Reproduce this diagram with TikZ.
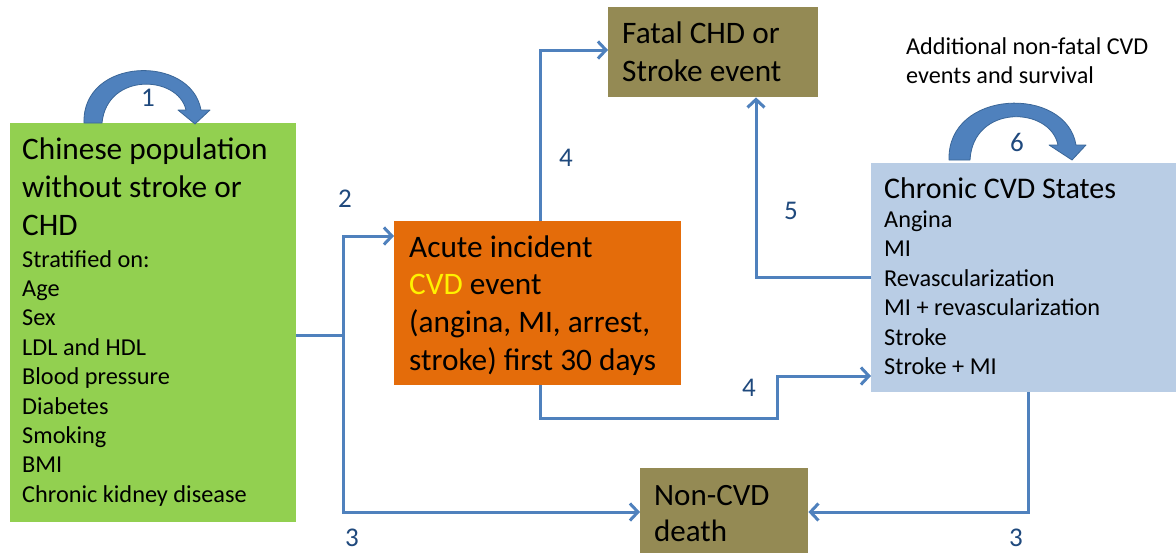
\documentclass[tikz,border=0pt]{standalone}
\usepackage{fontspec}
\setmainfont{Carlito}
\usetikzlibrary{positioning,arrows.meta}

\definecolor{popgreen}{HTML}{92D050}
\definecolor{deatholive}{HTML}{948A54}
\definecolor{acuteorange}{HTML}{E46C0A}
\definecolor{chronicblue}{HTML}{B9CDE5}
\definecolor{linkblue}{HTML}{4F81BD}
\definecolor{arrowedge}{HTML}{3A6698}
\definecolor{numblue}{HTML}{1F497D}

\newcommand{\boxfont}{\fontsize{31.3}{38}\selectfont}
\newcommand{\listfont}{\fontsize{24.3}{29.4}\selectfont}

\tikzset{
  statebox/.style={rectangle, inner sep=0pt, anchor=north west},
  boxtext/.style={anchor=base west, inner sep=0pt},
  conn/.style={draw=linkblue, line width=3pt, -{Straight Barb[length=8pt,width=17pt]}},
  steplabel/.style={text=numblue, inner sep=0pt, font=\fontsize{27}{30}\selectfont},
  looparrow/.style={fill=linkblue, draw=arrowedge, line width=0.8pt, line join=round}
}

\begin{document}
\begin{tikzpicture}[x=1pt, y=-1pt]
    \path[fill=white, use as bounding box] (0,0) rectangle (1176,552);

    % State boxes
    \node[statebox, fill=popgreen, minimum width=286pt, minimum height=399pt] (pop) at (10,123) {};
    \node[statebox, fill=deatholive, minimum width=210pt, minimum height=90pt] (fatal) at (608,7) {};
    \node[statebox, fill=acuteorange, minimum width=287pt, minimum height=164pt] (acute) at (394,221) {};
    \node[statebox, fill=chronicblue, minimum width=310pt, minimum height=229pt] (chronic) at (871,163) {};
    \node[statebox, fill=deatholive, minimum width=168pt, minimum height=95pt] (noncvd) at (640,468) {};

    % Box texts
    \node[boxtext] (poptxt) at (22,159) {\parbox[t]{280pt}{\boxfont Chinese population\\without stroke or\\CHD\par\vspace{2.6pt}%
        \listfont Stratified on:\\Age\\Sex\\LDL and HDL\\Blood pressure\\Diabetes\\Smoking\\BMI\\Chronic kidney disease}};
    \node[boxtext] (fataltxt) at (622,43) {\parbox[t]{200pt}{\boxfont Fatal CHD or\\Stroke event}};
    \node[boxtext] (acutetxt) at (409,257) {\parbox[t]{280pt}{\fontsize{31.3}{37.7}\selectfont Acute incident\\
        \textcolor{yellow}{CVD} event\\(angina, MI, arrest,\\stroke) first 30 days}};
    \node[boxtext] (chronictxt) at (884,198) {\parbox[t]{290pt}{\fontsize{30}{32}\selectfont Chronic CVD States\par
        \listfont Angina\\MI\\Revascularization\\MI + revascularization\\Stroke\\Stroke + MI}};
    \node[boxtext] (noncvdtxt) at (654,505) {\parbox[t]{160pt}{\fontsize{31}{36}\selectfont Non-CVD\\death}};
    \node[boxtext] (extranote) at (906,54) {\parbox[t]{270pt}{\fontsize{24.2}{29}\selectfont Additional non-fatal CVD\\events and survival}};

    % Connectors
    \coordinate (split) at (343,335);
    \coordinate (bend) at (777,418);
    \draw[conn, -] (pop.east |- split) -- (split);
    \draw[conn] (split) |- ([yshift=-15pt]acute.north west);
    \draw[conn] (split) |- ([yshift=-44pt]noncvd.north west);
    \draw[conn] ([xshift=146pt]acute.north west) |- ([yshift=-43pt]fatal.north west);
    \draw[conn] ([xshift=146pt]acute.south west) |- (bend) |- ([yshift=-213pt]chronic.north west);
    \draw[conn] ([yshift=-114pt]chronic.north west) -| ([xshift=148pt]fatal.south west);
    \draw[conn] ([xshift=157pt]chronic.south west) |- ([yshift=-44pt]noncvd.north east);

    % Self-loop arrows
    \draw[looparrow] (84,123) .. controls (82,57) and (191,54) .. (201,110) -- (210,110) -- (195,124)
        -- (178,110) -- (186,110) .. controls (178,75) and (107,72) .. (102,123) -- cycle;
    \draw[looparrow] (949,160) .. controls (947,89) and (1066,85) .. (1076,145) -- (1086,145) -- (1072,160)
        -- (1049,145) -- (1058,145) .. controls (1050,106) and (973,104) .. (970,160) -- cycle;

    % Transition numbers
    \node[steplabel] (n1) at (148,98) {1};
    \node[steplabel] (n2) at (345,199) {2};
    \node[steplabel] (n3a) at (352,538) {3};
    \node[steplabel] (n4a) at (566,158) {4};
    \node[steplabel] (n4b) at (749,388) {4};
    \node[steplabel] (n5) at (791,211) {5};
    \node[steplabel] (n6) at (1017,142) {6};
    \node[steplabel] (n3b) at (1016,538) {3};
\end{tikzpicture}
\end{document}
